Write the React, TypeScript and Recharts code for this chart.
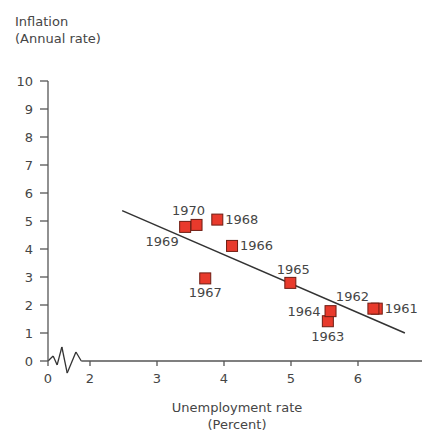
import React from 'react';
import { ScatterChart, Scatter, XAxis, YAxis, ReferenceLine, Label } from 'recharts';

// ---- data ----
const years = [1961, 1962, 1963, 1964, 1965, 1966, 1967, 1968, 1969, 1970];
const unemployment = [6.28, 6.23, 5.55, 5.59, 4.99, 4.12, 3.72, 3.9, 3.42, 3.59];
const inflation = [1.87, 1.87, 1.42, 1.78, 2.79, 4.11, 2.95, 5.05, 4.79, 4.86];

const trendX = [2.48, 6.7];
const trendY = [5.37, 1.0];

const yTicks = [0, 1, 2, 3, 4, 5, 6, 7, 8, 9, 10];
const xTickValues = [2, 3, 4, 5, 6];

// break in the x axis: "0" sits left of the break
const X_ZERO = 2 - 42 / 67; // display position of the "0" tick
const X_MAX = X_ZERO + 374 / 67;
const breakX = [X_ZERO, 1.45, 1.51, 1.58, 1.66, 1.79, 1.87];
const breakY = [0, 0.18, -0.14, 0.5, -0.43, 0.32, 0];

// label placement per year: [anchor, dx, dy]
const labelPlacement: Record<number, [string, number, number]> = {
  1961: ['start', 8, 0],
  1962: ['middle', -21, -12],
  1963: ['middle', 0, 15],
  1964: ['end', -10, 0],
  1965: ['middle', 3, -13],
  1966: ['start', 8, 0],
  1967: ['middle', 0, 14],
  1968: ['start', 8, 0],
  1969: ['middle', -23, 15],
  1970: ['middle', -8, -14],
};

const points = years.map((y, i) => ({ year: y, x: unemployment[i], y: inflation[i] }));
const trend = trendX.map((x, i) => ({ x, y: trendY[i] }));

const FONT = '"DejaVu Sans", Arial, Helvetica, sans-serif';
const FS = 13;
const TEXT = '#454545';
const AXIS = '#555';

const PointShape = (props: any) => {
  const { cx, cy, payload } = props;
  if (cx == null || cy == null) return <g />;
  const s = 11;
  const [anchor, dx, dy] = labelPlacement[payload.year] || ['start', 8, 0];
  return (
    <g>
      <rect x={cx - s / 2} y={cy - s / 2} width={s} height={s} fill="#e83a2c" stroke="#6e1c12" strokeWidth={1} />
      <text
        x={cx + dx}
        y={cy + dy}
        textAnchor={anchor as any}
        dominantBaseline="central"
        fontSize={FS}
        fontFamily={FONT}
        fill={TEXT}
      >
        {payload.year}
      </text>
    </g>
  );
};

const XLabel = (props: any) => {
  const vb = props.viewBox || {};
  const cx = 237;
  const top = (vb.y ?? 361);
  return (
    <text x={cx} y={top + 51} textAnchor="middle" fontSize={FS} fontFamily={FONT} fill={TEXT}>
      <tspan x={cx} dy={0}>Unemployment rate</tspan>
      <tspan x={cx} dy={17}>(Percent)</tspan>
    </text>
  );
};

export default function App() {
  const breakSegs = breakX.slice(1).map((x, i) => [
    { x: breakX[i], y: breakY[i] },
    { x, y: breakY[i + 1] },
  ]);
  return (
    <div style={{ position: 'absolute', left: 0, top: 0, width: 422, height: 434, background: '#fff' }}>
      <div
        style={{
          position: 'absolute',
          left: 15,
          top: 13,
          fontFamily: FONT,
          fontSize: FS,
          lineHeight: '17px',
          color: TEXT,
        }}
      >
        Inflation
        <br />
        (Annual rate)
      </div>
      <ScatterChart width={422} height={434} margin={{ top: 81, right: 0, bottom: 0, left: 0 }}>
        <XAxis
          type="number"
          dataKey="x"
          domain={[X_ZERO, X_MAX]}
          allowDataOverflow
          ticks={[X_ZERO, ...xTickValues]}
          tickFormatter={(v: number) => (v < 1.5 ? '0' : String(v))}
          axisLine={false}
          tickLine={{ stroke: AXIS, strokeWidth: 1.3 }}
          tickSize={5}
          tickMargin={8}
          height={73}
          tick={{ fill: TEXT, fontSize: FS, fontFamily: FONT }}
          interval={0}
        >
          <Label content={<XLabel />} />
        </XAxis>
        <YAxis
          type="number"
          dataKey="y"
          domain={[0, 10]}
          allowDataOverflow
          ticks={yTicks}
          width={48}
          axisLine={{ stroke: AXIS, strokeWidth: 1.3 }}
          tickLine={{ stroke: AXIS, strokeWidth: 1.3 }}
          tickSize={8}
          tickMargin={7}
          tick={{ fill: TEXT, fontSize: FS, fontFamily: FONT }}
          interval={0}
        />
        {breakSegs.map((seg, i) => (
          <ReferenceLine key={'b' + i} segment={seg} stroke="#333" strokeWidth={1.3} ifOverflow="visible" />
        ))}
        <ReferenceLine
          segment={[
            { x: breakX[breakX.length - 1], y: 0 },
            { x: X_MAX, y: 0 },
          ]}
          stroke={AXIS}
          strokeWidth={1.3}
          ifOverflow="visible"
        />
        <Scatter
          data={trend}
          line={{ stroke: '#333', strokeWidth: 1.5 }}
          shape={() => <g />}
          isAnimationActive={false}
          legendType="none"
        />
        <Scatter data={points} shape={<PointShape />} isAnimationActive={false} />
      </ScatterChart>
    </div>
  );
}
